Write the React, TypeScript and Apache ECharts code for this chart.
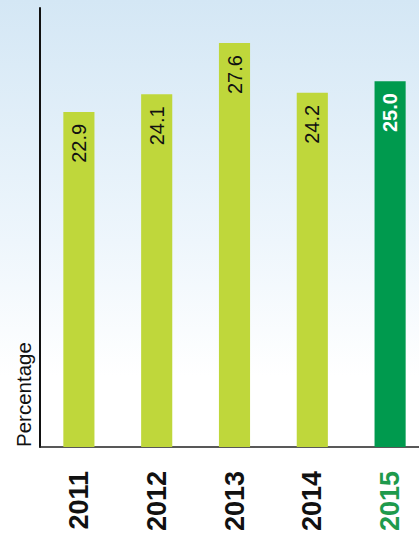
import React, { useEffect, useRef } from "react";
import * as echarts from "echarts";

const categories = ["2011", "2012", "2013", "2014", "2015"];
const values = [22.9, 24.1, 27.6, 24.2, 25.0];
const highlightIndex = 4;

const LIGHT = "#bfd73b";
const DARK = "#009a4e";

export default function App() {
  const ref = useRef<HTMLDivElement>(null);
  useEffect(() => {
    if (!ref.current) return;
    const chart = echarts.init(ref.current, undefined, { renderer: "svg" });
    chart.setOption({
      animation: false,
      grid: { left: 40, right: 0, top: 8, bottom: 90 },
      xAxis: {
        type: "category",
        data: categories,
        axisLine: { lineStyle: { color: "#222", width: 1.5 } },
        axisTick: { show: false },
        axisLabel: {
          rotate: 90,
          margin: 24,
          fontSize: 27,
          fontWeight: "bold",
          fontFamily: "Liberation Sans, Arial, sans-serif",
          color: (v: string, i: number) => (i === highlightIndex ? "#1e9a4c" : "#111"),
        },
      },
      yAxis: {
        type: "value",
        min: 0,
        max: 30,
        axisLine: { show: true, lineStyle: { color: "#111", width: 2 } },
        axisTick: { show: false },
        axisLabel: { show: false },
        splitLine: { show: false },
      },
      graphic: [
        {
          type: "text",
          x: 23,
          y: 447,
          rotation: Math.PI / 2,
          style: {
            text: "Percentage",
            fontSize: 20.5,
            fontFamily: "Liberation Sans, Arial, sans-serif",
            fill: "#111",
            align: "left",
            verticalAlign: "middle",
          },
        },
      ],
      series: [
        {
          type: "bar",
          barWidth: "40%",
          data: values.map((v, i) => ({
            value: v,
            itemStyle: { color: i === highlightIndex ? DARK : LIGHT },
            label: i === highlightIndex ? { color: "#fff", fontWeight: "bold" } : undefined,
          })),
          label: {
            show: true,
            position: "insideTop",
            rotate: 90,
            align: "right",
            verticalAlign: "middle",
            distance: 12,
            fontSize: 20,
            fontFamily: "Liberation Sans, Arial, sans-serif",
            color: "#111",
            formatter: (p: any) => Number(p.value).toFixed(1),
          },
        },
      ],
    });
    return () => chart.dispose();
  }, []);
  return (
    <div
      style={{
        position: "absolute",
        left: 0,
        top: 0,
        width: 419,
        height: 537,
        overflow: "hidden",
        background: "linear-gradient(to bottom, #d4e7f5 0%, #eef6fc 45%, #ffffff 70%, #ffffff 100%)",
      }}
    >
      <div ref={ref} style={{ width: 429, height: 537 }} />
    </div>
  );
}
